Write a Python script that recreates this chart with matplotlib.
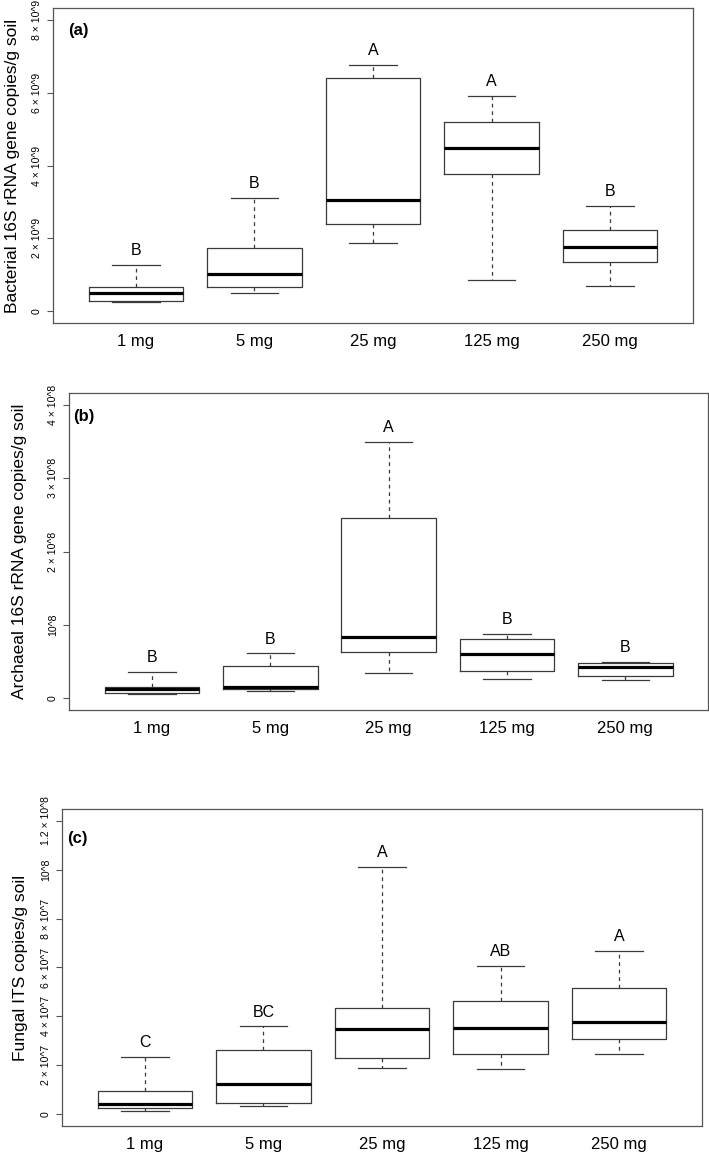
import matplotlib.pyplot as plt
import numpy as np

plt.rcParams['font.family'] = ['Liberation Sans', 'DejaVu Sans']

doses = ['1 mg', '5 mg', '25 mg', '125 mg', '250 mg']

# (a) bacterial 16S, units of 1e9 copies/g soil
bact_lo = [0.255, 0.51, 1.87, 0.85, 0.69]
bact_q1 = [0.28, 0.665, 2.39, 3.77, 1.34]
bact_med = [0.51, 1.02, 3.06, 4.49, 1.76]
bact_q3 = [0.665, 1.73, 6.39, 5.19, 2.22]
bact_hi = [1.28, 3.11, 6.75, 5.91, 2.90]
bact_letters = ['B', 'B', 'A', 'A', 'B']
bact_ticks = [0, 2, 4, 6, 8]
bact_ticklabels = ['0', '2 × 10^9', '4 × 10^9', '6 × 10^9', '8 × 10^9']

# (b) archaeal 16S, units of 1e8
arch_lo = [0.06, 0.095, 0.34, 0.26, 0.245]
arch_q1 = [0.068, 0.127, 0.63, 0.37, 0.30]
arch_med = [0.127, 0.155, 0.84, 0.60, 0.42]
arch_q3 = [0.15, 0.436, 2.46, 0.81, 0.486]
arch_hi = [0.36, 0.61, 3.49, 0.88, 0.50]
arch_letters = ['B', 'B', 'A', 'B', 'B']
arch_ticks = [0, 1, 2, 3, 4]
arch_ticklabels = ['0', '10^8', '2 × 10^8', '3 × 10^8', '4 × 10^8']

# (c) fungal ITS, units of 1e7
fung_lo = [0.12, 0.34, 1.90, 1.87, 2.45]
fung_q1 = [0.27, 0.45, 2.28, 2.47, 3.06]
fung_med = [0.40, 1.23, 3.50, 3.51, 3.76]
fung_q3 = [0.97, 2.64, 4.33, 4.64, 5.16]
fung_hi = [2.35, 3.59, 10.12, 6.05, 6.67]
fung_letters = ['C', 'BC', 'A', 'AB', 'A']
fung_ticks = [0, 2, 4, 6, 8, 10, 12]
fung_ticklabels = ['0', '2 × 10^7', '4 × 10^7', '6 × 10^7', '8 × 10^7',
                   '10^8', '1.2 × 10^8']

W, H = 709, 1153
fig = plt.figure(figsize=(W / 100, H / 100), dpi=100)


def panel(rect, lo, q1, med, q3, hi, letters, ticks, ticklabels, ymax,
          ylabel, tag, tag_dx, tag_dy, label_x):
    left, top, right, bottom = rect
    ax = fig.add_axes([left / W, 1 - bottom / H, (right - left) / W, (bottom - top) / H])
    stats = [dict(whislo=a, q1=b, med=c, q3=d, whishi=e, fliers=[])
             for a, b, c, d, e in zip(lo, q1, med, q3, hi)]
    pos = np.arange(1, len(stats) + 1)
    edge = '#3a3a3a'
    ax.bxp(stats, positions=pos, widths=0.8, capwidths=0.4, showfliers=False,
           boxprops=dict(color=edge, lw=0.9),
           medianprops=dict(color='black', lw=2.3, solid_capstyle='butt'),
           whiskerprops=dict(color=edge, lw=0.9, linestyle=(0, (3, 3))),
           capprops=dict(color=edge, lw=0.9))
    for p, h, s in zip(pos, hi, letters):
        ax.annotate(s, (p, h), xytext=(0, 5), textcoords='offset points',
                    ha='center', va='bottom', fontsize=11.5)
    ax.set_xlim(0.3, 5.7)
    ax.set_ylim(-0.04 * ymax, 1.04 * ymax)
    ax.set_xticks(pos, doses)
    ax.set_yticks(ticks, ticklabels)
    ax.tick_params(axis='x', length=0, pad=8, labelsize=12)
    ax.tick_params(axis='y', length=4.5, width=0.8, color='#555555', pad=3.5,
                   labelsize=7.6, labelrotation=90)
    for lab in ax.get_yticklabels():
        lab.set_va('center')
    for sp in ax.spines.values():
        sp.set_color('#555555')
        sp.set_linewidth(0.9)
    ax.set_ylabel(ylabel, fontsize=12.5, va='center')
    ax.yaxis.set_label_coords((label_x - left) / (right - left), 0.5)
    ax.annotate(tag, (0, 1), xycoords='axes fraction', xytext=(tag_dx, -tag_dy),
                textcoords='offset pixels', ha='left', va='center',
                fontsize=12, fontweight='bold')
    return ax


panel((53, 8, 693, 323), bact_lo, bact_q1, bact_med, bact_q3, bact_hi,
      bact_letters, bact_ticks, bact_ticklabels, 8,
      'Bacterial 16S rRNA gene copies/g soil', '(a)', 15, 23, 13)
panel((69, 393, 708, 710), arch_lo, arch_q1, arch_med, arch_q3, arch_hi,
      arch_letters, arch_ticks, arch_ticklabels, 4,
      'Archaeal 16S rRNA gene copies/g soil', '(b)', 4, 24, 20)
panel((62, 809, 702, 1126), fung_lo, fung_q1, fung_med, fung_q3, fung_hi,
      fung_letters, fung_ticks, fung_ticklabels, 12,
      'Fungal ITS copies/g soil', '(c)', 5, 29, 21)

fig.savefig('out.png', dpi=100)
